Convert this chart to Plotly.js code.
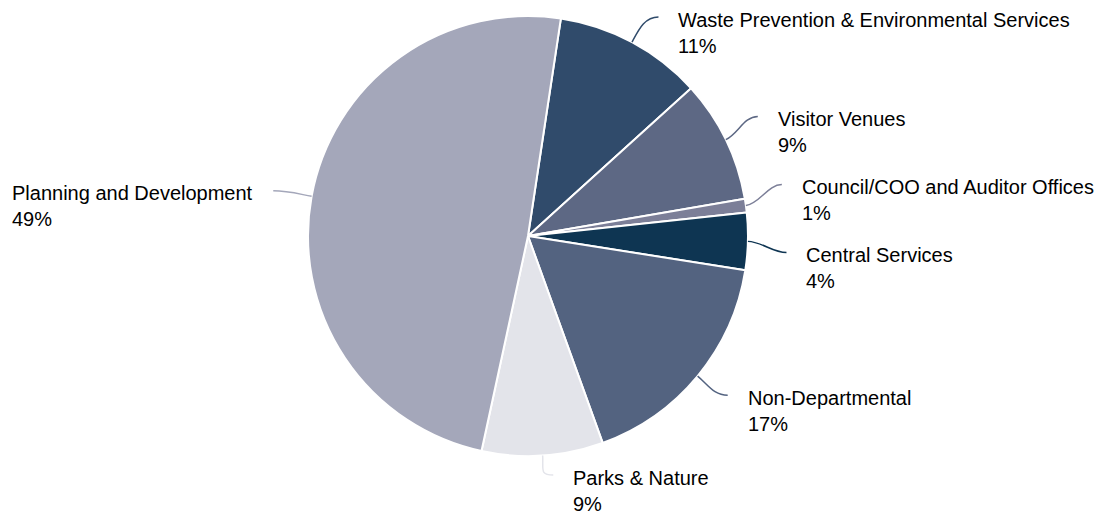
<!DOCTYPE html>
<html>
<head>
<meta charset="utf-8">
<script src="https://cdn.plot.ly/plotly-3.0.1.min.js"></script>
<style>
  html, body { margin: 0; padding: 0; background: #ffffff; }
  #chart { width: 1099px; height: 514px; }
</style>
</head>
<body>
<div id="chart"></div>
<script>
// ---- data ----
const categories = [
  "Waste Prevention & Environmental Services",
  "Visitor Venues",
  "Council/COO and Auditor Offices",
  "Central Services",
  "Non-Departmental",
  "Parks & Nature",
  "Planning and Development"
];
const shares = [10.9, 9.0, 1.0, 4.2, 17.0, 8.9, 49.0];
const percentLabels = ["11%", "9%", "1%", "4%", "17%", "9%", "49%"];
const sliceColors = ["#304b6b", "#5d6884", "#7c7f98", "#0e3552", "#536380", "#e3e4ea", "#a4a7ba"];

// ---- layout constants (pixels) ----
const W = 1099, H = 514;
const CX = 528, CY = 236, R = 220;
const ROTATION = 8.6;         // degrees clockwise from 12 o'clock
const LABEL_DIST = 250;       // radius used for ideal label height
const END_DIST = 259;         // radius of connector end
const LABEL_SPACING = 68;     // vertical space of a two-line label
const GROUP_BIAS = -5.5;      // shift applied to labels pushed apart
const Y_MIN = 17, Y_MAX = 475;
const FONT = "Liberation Sans, Arial, sans-serif";

const px = x => x / W;
const py = y => 1 - y / H;

// mid angles from data
const total = shares.reduce((a, b) => a + b, 0);
let acc = 0;
const mids = shares.map(v => {
  const a = ROTATION + (acc + v / 2) / total * 360;
  acc += v;
  return a * Math.PI / 180;
});

// label placement (simple collision resolution per side)
const items = mids.map((a, i) => {
  const side = (Math.sin(a) >= 0) ? 1 : -1;
  const ideal = CY - LABEL_DIST * Math.cos(a);
  return { i, a, side, ideal, y: ideal };
});

function distribute(list) {
  list.sort((p, q) => p.ideal - q.ideal);
  let groups = list.map(it => ({ members: [it] }));
  const place = g => {
    const n = g.members.length;
    let start = g.members.reduce((s, m, k) => s + (m.ideal - k * LABEL_SPACING), 0) / n;
    if (n > 1) start += GROUP_BIAS;
    start = Math.max(Y_MIN, Math.min(Y_MAX - (n - 1) * LABEL_SPACING, start));
    g.start = start;
  };
  groups.forEach(place);
  let changed = true;
  while (changed) {
    changed = false;
    for (let k = 0; k < groups.length - 1; k++) {
      const g1 = groups[k], g2 = groups[k + 1];
      const end1 = g1.start + (g1.members.length - 1) * LABEL_SPACING;
      if (g2.start - end1 < LABEL_SPACING) {
        const merged = { members: g1.members.concat(g2.members) };
        place(merged);
        groups.splice(k, 2, merged);
        changed = true;
        break;
      }
    }
  }
  groups.forEach(g => g.members.forEach((m, k) => {
    m.y = g.start + k * LABEL_SPACING;
  }));
}
distribute(items.filter(it => it.side === 1));
distribute(items.filter(it => it.side === -1));

const annotations = [];
const shapes = [];
items.forEach(it => {
  const sx = CX + R * Math.sin(it.a), sy = CY - R * Math.cos(it.a);
  let ex;
  const moved = Math.abs(it.y - it.ideal) > 0.5;
  const clamped = moved && (it.y <= Y_MIN + 0.5 || it.y >= Y_MAX - 0.5);
  if (clamped || !moved) {
    ex = CX + END_DIST * Math.sin(it.a) + (clamped ? it.side * 8 : 0);
  } else {
    const dy = it.y - CY;
    ex = CX + it.side * Math.sqrt(Math.max(0, END_DIST * END_DIST - dy * dy));
  }
  const ey = it.y;
  // control points: radial out from slice edge, horizontal into label
  const c1x = sx + 14 * Math.sin(it.a), c1y = sy - 14 * Math.cos(it.a);
  const c2x = ex - it.side * 14, c2y = ey;
  shapes.push({
    type: "path", xref: "paper", yref: "paper",
    path: `M ${px(sx)} ${py(sy)} C ${px(c1x)} ${py(c1y)}, ${px(c2x)} ${py(c2y)}, ${px(ex)} ${py(ey)}`,
    line: { color: sliceColors[it.i], width: 1.5 }
  });
  annotations.push({
    xref: "paper", yref: "paper",
    x: px(ex + it.side * 18), y: py(ey + 15.5),
    xanchor: it.side === 1 ? "left" : "right", yanchor: "middle",
    align: "left", showarrow: false,
    text: categories[it.i] + "<br>" + percentLabels[it.i],
    font: { family: FONT, size: 20, color: "#000000" }
  });
});

const trace = {
  type: "pie",
  labels: categories,
  values: shares,
  sort: false,
  direction: "clockwise",
  rotation: ROTATION,
  textinfo: "none",
  hoverinfo: "label+percent",
  marker: { colors: sliceColors, line: { color: "#ffffff", width: 2 } },
  domain: { x: [px(CX - R), px(CX + R)], y: [py(CY + R), py(CY - R)] },
  showlegend: false
};

const layout = {
  width: W, height: H,
  margin: { l: 0, r: 0, t: 0, b: 0 },
  paper_bgcolor: "#ffffff",
  plot_bgcolor: "#ffffff",
  showlegend: false,
  annotations: annotations,
  shapes: shapes,
  font: { family: FONT }
};

Plotly.newPlot("chart", [trace], layout, { displayModeBar: false, staticPlot: true });
</script>
</body>
</html>
